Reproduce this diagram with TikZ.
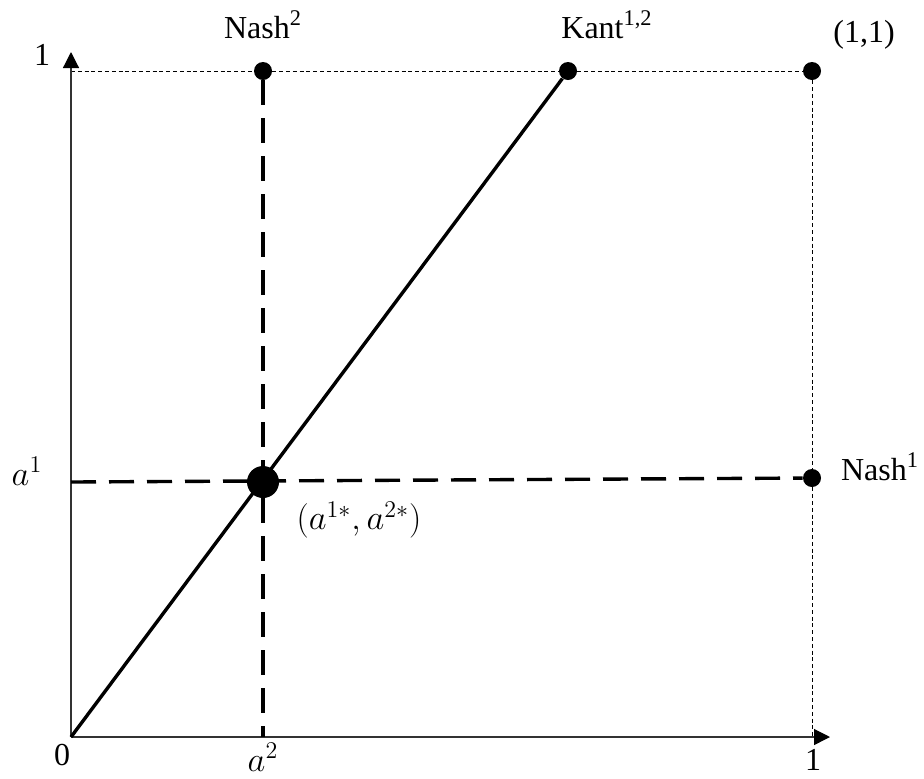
\documentclass[tikz,border=0pt]{standalone}
\usepackage{fontspec}
\setmainfont{Liberation Serif}
\usetikzlibrary{arrows.meta, positioning}

\begin{document}
\begin{tikzpicture}[
  x=0.5pt, y=-0.5pt,
  font=\fontsize{16}{19}\selectfont,
  axis/.style={-{Triangle[length=8pt, width=8pt, black]}, line width=0.6pt, black!80},
  guide/.style={line width=0.5pt, dash pattern=on 2pt off 1.4pt},
  solidline/.style={line width=1.7pt},
  bolddash/.style={line width=1.7pt, dash pattern=on 12.5pt off 6.5pt},
  dot/.style={circle, fill, inner sep=0pt, minimum size=9pt},
  bigdot/.style={circle, fill, inner sep=0pt, minimum size=16pt},
  mathlabel/.style={font=\fontsize{18}{20}\selectfont},
]
\useasboundingbox (0,0) rectangle (924,778);

% axes
\coordinate (o) at (71,737);
\coordinate (xend) at (830,737);
\coordinate (yend) at (71,52);
\coordinate (ytop) at (71,71);
\coordinate (a1) at (71,482);
\coordinate (a2) at (263,737);
\coordinate (xone) at (812,737);

\node[dot] (nash2) at (263,71) {};
\node[dot] (kant) at (568,71) {};
\node[dot] (one) at (812,71) {};
\node[dot] (nash1) at (812,478) {};

\draw[guide] (ytop) -- (nash2);
\draw[guide] (nash2) -- (kant);
\draw[guide] (kant) -- (one);
\draw[guide] (one) -- (nash1);
\draw[guide] (nash1) -- (xone);

\draw[axis] (o) -- (xend);
\draw[axis] (o) -- (yend);

\draw[solidline] (o) -- (kant);
\draw[bolddash] (nash2) -- (a2);
\draw[bolddash] (a1) -- (nash1);

\node[bigdot] (eq) at (263,482) {};

% labels
\node (lyone) at (42,55) {1};
\node (lzero) at (62,755) {0};
\node (lxone) at (813,760) {1};
\node[mathlabel] (la2) at (263,757) {$a^2$};
\node[mathlabel] (la1) at (27,471) {$a^1$};
\node (lnash2) at (263,25) {Nash\textsuperscript{2}};
\node (lkant) at (607,25) {Kant\textsuperscript{1,2}};
\node (lone) at (864,35) {(1,1)};
\node[anchor=west] (lnash1) at (834,467) {Nash\textsuperscript{1}};
\node[mathlabel] (leq) at (359,520) {$(a^{1*},a^{2*})$};

\end{tikzpicture}
\end{document}
